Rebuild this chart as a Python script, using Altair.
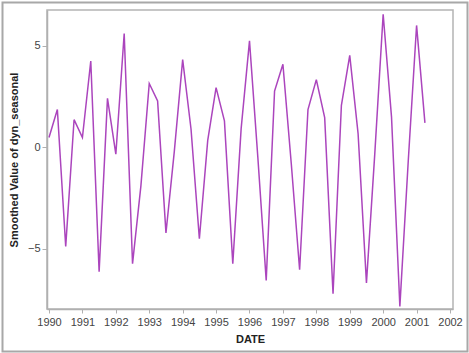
import altair as alt
import pandas as pd

dates = [
    1990.00, 1990.25, 1990.50, 1990.75,
    1991.00, 1991.25, 1991.50, 1991.75,
    1992.00, 1992.25, 1992.50, 1992.75,
    1993.00, 1993.25, 1993.50, 1993.75,
    1994.00, 1994.25, 1994.50, 1994.75,
    1995.00, 1995.25, 1995.50, 1995.75,
    1996.00, 1996.25, 1996.50, 1996.75,
    1997.00, 1997.25, 1997.50, 1997.75,
    1998.00, 1998.25, 1998.50, 1998.75,
    1999.00, 1999.25, 1999.50, 1999.75,
    2000.00, 2000.25, 2000.50, 2000.75,
    2001.00, 2001.25,
]
values = [
    0.48, 1.86, -4.88, 1.36,
    0.48, 4.25, -6.12, 2.41,
    -0.34, 5.60, -5.73, -1.90,
    3.14, 2.28, -4.22, -0.20,
    4.32, 0.90, -4.50, 0.34,
    2.94, 1.30, -5.73, 0.92,
    5.24, -0.50, -6.55, 2.77,
    4.09, -0.80, -6.03, 1.86,
    3.33, 1.46, -7.21, 2.07,
    4.53, 0.67, -6.68, -0.30,
    6.55, 1.50, -7.83, -0.70,
    6.00, 1.20,
]
year_ticks = list(range(1990, 2003))
y_ticks = [-5, 0, 5]

df = pd.DataFrame({"DATE": dates, "value": values})

W, H = 406, 299
FONT = "Liberation Sans"

line = alt.Chart(df).mark_line(color="#ab45bd", strokeWidth=1.5).encode(
    x=alt.X(
        "DATE:Q",
        scale=alt.Scale(domain=[1989.94, 2002.09], nice=False, zero=False),
        axis=alt.Axis(
            values=year_ticks, format="d", title="DATE", grid=False,
            tickSize=4, labelPadding=3, titlePadding=6,
            labelFontSize=11, titleFontSize=11, titleFontWeight="bold",
            labelColor="#444444", titleColor="#222222",
            domainColor="#b0b0b0", tickColor="#b0b0b0", domainWidth=1.5,
            labelFont=FONT, titleFont=FONT,
        ),
    ),
    y=alt.Y(
        "value:Q",
        scale=alt.Scale(domain=[-7.96, 6.76], nice=False, zero=False),
        axis=alt.Axis(
            values=y_ticks, title="Smoothed Value of dyn_seasonal", grid=False,
            tickSize=5, labelPadding=2, titlePadding=8,
            labelFontSize=11, titleFontSize=11, titleFontWeight="bold",
            labelColor="#444444", titleColor="#222222",
            domainColor="#b0b0b0", tickColor="#b0b0b0", domainWidth=1.5,
            labelFont=FONT, titleFont=FONT,
        ),
    ),
)

frame = alt.Chart(pd.DataFrame({"a": [0]})).mark_rect(
    fill=None, stroke="#a8a8a8", strokeWidth=2
).encode(
    x=alt.value(-44.5), x2=alt.value(420.5),
    y=alt.value(-7.5), y2=alt.value(341.5),
)

chart = alt.layer(frame, line).properties(
    width=W, height=H,
    autosize=alt.AutoSizeParams(type="none"),
    padding={"left": 47, "top": 10, "right": 16, "bottom": 44},
    background="white",
).configure_view(stroke="#b4b4b4", strokeWidth=1.5)

chart.save("out.html", embed_options={"renderer": "svg", "actions": False})
